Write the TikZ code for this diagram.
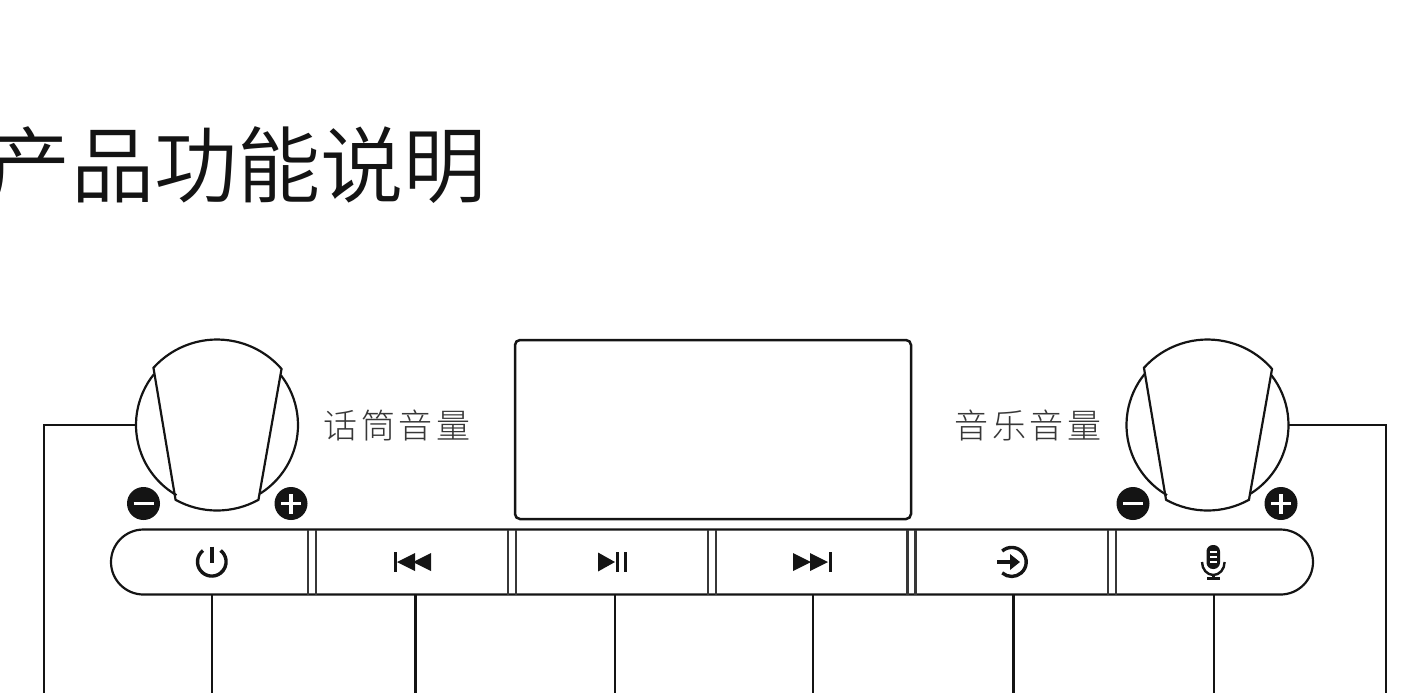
\documentclass[tikz,border=0pt]{standalone}
\usepackage{fontspec}
\newfontfamily\cjk[UprightFont={* Light}]{Noto Sans CJK SC}
\newfontfamily\cjktitle[UprightFont={* DemiLight}]{Noto Sans CJK SC}
\definecolor{ink}{HTML}{141414}
\newcommand{\lsp}{\hspace{1.8pt}}
\tikzset{
  wire/.style={draw=ink,line width=1.25pt},
  outline/.style={draw=ink,line width=1.1pt},
  divider/.style={draw=ink!85,line width=1.1pt},
  iconline/.style={draw=ink,line width=1.7pt},
  titletext/.style={inner sep=0pt,anchor=base west,text=ink,font=\cjktitle\fontsize{41.6}{41.6}\selectfont},
  labeltext/.style={inner sep=0pt,anchor=base,text=ink!85,font=\cjk\fontsize{17}{17}\selectfont},
  knobpic/.pic={
    \draw[outline] (222:85.5) arc[start angle=222,end angle=319,radius=85.5]
      -- (61:85.5) arc[start angle=61,end angle=119,radius=85.5] -- cycle;
    \draw[outline] (219:81) arc[start angle=219,end angle=120,radius=81];
    \draw[outline] (-38:81) arc[start angle=-38,end angle=58,radius=81];
  },
  minuspic/.pic={
    \fill[ink] (0,0) circle (16.5);
    \draw[white,line width=1.8pt] (-10,0) -- (10,0);
  },
  pluspic/.pic={
    \fill[ink] (0,0) circle (16.5);
    \draw[white,line width=1.8pt] (-10,0) -- (10,0) (0,-10) -- (0,10);
  },
}
\begin{document}
\begin{tikzpicture}[x=.5pt,y=.5pt,yscale=-1]
\useasboundingbox (0,0) rectangle (1420,693);
\node[titletext] (title) at (-12.5,196) {产品功能说明};
\node[labeltext] (lblmic) at (397,438) {话\lsp 筒\lsp 音\lsp 量};
\node[labeltext] (lblmus) at (1028,438) {音\lsp 乐\lsp 音\lsp 量};
% screen
\draw[draw=ink,line width=1.25pt,rounded corners=2.5pt] (515,340) rectangle (911,519);
% knobs
\pic[transform shape] at (217,425) {knobpic};
\pic[transform shape] at (1207.5,425) {knobpic};
\pic at (143.5,503.5) {minuspic};
\pic at (291,503.5) {pluspic};
\pic at (1133,503.5) {minuspic};
\pic at (1281,503.5) {pluspic};
% button bar
\draw[outline] (143.5,529.5) -- (1280.5,529.5) arc[start angle=-90,end angle=90,radius=32.5]
  -- (143.5,594.5) arc[start angle=90,end angle=270,radius=32.5] -- cycle;
\foreach \a/\b in {308.3/316,508/516,708/715.7,907.5/915.5,1108.3/1116}{
  \draw[divider] (\a,529.5) -- (\a,594.5) (\b,529.5) -- (\b,594.5);
}
% connector anchors
\coordinate (kl) at (136,425);
\coordinate (kr) at (1289,425);
\coordinate (endl) at (44,693);
\coordinate (endr) at (1386,693);
\foreach \n/\x in {1/212,2/415.5,3/615,4/813,5/1013.5,6/1214}{
  \coordinate (btn\n) at (\x,594.5);
  \coordinate (end\n) at (\x,693);
  \draw[wire] (btn\n) -- (end\n);
}
\draw[wire] (kl) -| (endl);
\draw[wire] (kr) -| (endr);
% power
\draw[iconline] (212,546.5) -- (212,563);
\draw[iconline] (203,550.5) arc[start angle=232,end angle=-52,radius=14.3];
% previous
\fill[ink] (394,552) rectangle (397,572);
\fill[ink] (397,562) -- (415,553) -- (415,571) -- cycle;
\fill[ink] (413,562) -- (431,553) -- (431,571) -- cycle;
% play/pause
\fill[ink] (598,552.5) -- (615,562) -- (598,571.5) -- cycle;
\fill[ink] (615.5,552) rectangle (618.5,572);
\fill[ink] (623.5,552) rectangle (626.5,572);
% next
\fill[ink] (793,553) -- (811,562) -- (793,571) -- cycle;
\fill[ink] (810,553) -- (828,562) -- (810,571) -- cycle;
\fill[ink] (829,551.5) rectangle (832,572);
% input
\draw[iconline] (1002.2,551) arc[start angle=-131,end angle=131,radius=14.5];
\draw[iconline] (997,562) -- (1011,562);
\fill[ink] (1010,554) -- (1020,562) -- (1010,570) -- cycle;
% mic
\fill[ink,rounded corners=3.2pt] (1206.5,545) rectangle (1220,569);
\draw[white,line width=.6pt] (1210,552) -- (1216.5,552) (1210,557) -- (1216.5,557) (1210,562) -- (1216.5,562);
\draw[draw=ink,line width=1.2pt] (1202,562) arc[start angle=180,end angle=0,x radius=11.3,y radius=13];
\draw[draw=ink,line width=1.2pt] (1213.3,575) -- (1213.3,578) (1207,578.5) -- (1220,578.5);
\end{tikzpicture}
\end{document}
